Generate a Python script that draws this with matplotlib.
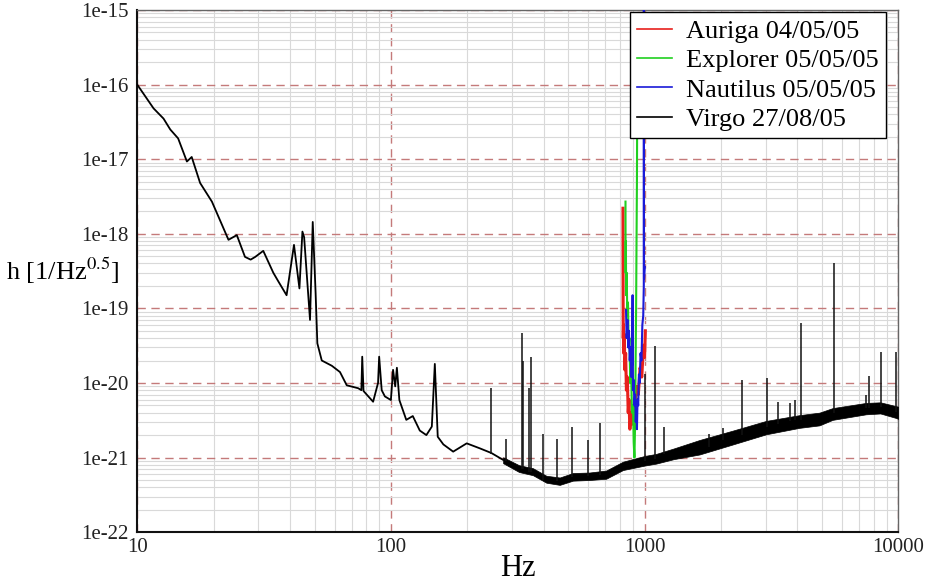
import numpy as np
import matplotlib
matplotlib.use('Agg')
import matplotlib.pyplot as plt
from matplotlib.ticker import FixedLocator, LogLocator, NullFormatter

plt.rcParams['font.family'] = ['Liberation Serif', 'DejaVu Serif']
plt.rcParams['mathtext.fontset'] = 'stix'

# Virgo 27/08/05, low-frequency part (Hz, strain)
virgo_f = [10.0, 11.6, 12.7, 13.5, 14.5, 15.7, 16.4, 17.7, 19.7, 20.9, 22.9, 24.7,
           26.6, 28.0, 29.2, 31.4, 34.4, 36.0, 38.8, 41.5, 43.6, 44.8, 45.5, 48.0,
           49.2, 50.5, 51.3, 53.4, 58.5, 63.0, 67.0, 74.3, 76.5, 77.1, 78.0, 85.1,
           89.0, 89.9, 92.0, 94.7, 100, 102, 104, 105.6, 108, 115, 122, 130, 138,
           145, 149, 153, 161, 176, 199, 224, 249, 277]
virgo_h = [1.0e-16, 4.8e-17, 3.5e-17, 2.5e-17, 1.9e-17, 9.3e-18, 1.07e-17, 4.8e-18,
           2.7e-18, 1.7e-18, 8.3e-19, 9.6e-19, 4.9e-19, 4.5e-19, 4.9e-19, 5.9e-19,
           3.0e-19, 2.3e-19, 1.5e-19, 7.1e-19, 1.85e-19, 1.07e-18, 9.0e-19, 7.0e-20,
           1.44e-18, 1.6e-19, 3.4e-20, 2.0e-20, 1.7e-20, 1.4e-20, 9.3e-21, 8.5e-21,
           8.0e-21, 2.25e-20, 7.8e-21, 5.6e-21, 1.0e-20, 2.25e-20, 8.0e-21, 6.6e-21,
           5.9e-21, 1.5e-20, 9.0e-21, 1.6e-20, 5.9e-21, 3.2e-21, 3.6e-21, 2.3e-21,
           2.0e-21, 2.6e-21, 1.8e-20, 1.9e-21, 1.5e-21, 1.2e-21, 1.55e-21, 1.33e-21,
           1.15e-21, 9.3e-22]

# Virgo high-frequency noise band (lower / upper edge)
band_f = [277, 320, 363, 410, 463, 522, 607, 706, 822, 1000, 1112, 1300, 1648,
          2230, 3015, 4074, 4890, 5510, 7464, 8500, 9780, 10000]
band_lo = [8.4e-22, 6.4e-22, 5.8e-22, 4.6e-22, 4.3e-22, 4.9e-22, 5.0e-22, 5.2e-22,
           6.8e-22, 7.8e-22, 8.3e-22, 9.5e-22, 1.1e-21, 1.5e-21, 2.05e-21, 2.5e-21,
           2.7e-21, 3.2e-21, 3.8e-21, 3.9e-21, 3.4e-21, 3.3e-21]
band_hi = [1.01e-21, 7.9e-22, 7.2e-22, 5.7e-22, 5.4e-22, 6.2e-22, 6.3e-22, 6.7e-22,
           8.8e-22, 1.05e-21, 1.12e-21, 1.32e-21, 1.72e-21, 2.3e-21, 3.1e-21, 3.7e-21,
           4.0e-21, 4.6e-21, 5.4e-21, 5.5e-21, 4.9e-21, 4.8e-21]

# Virgo lines (frequency, base, top)
spike_f = [249, 284, 330, 333, 351, 358, 398, 452, 519, 598, 665, 1000, 1102, 1191,
           1791, 2032, 2414, 3047, 3348, 3750, 3920, 4140, 5560, 7460, 7690, 8550, 9780]
spike_base = [1.1e-21, 9.0e-22, 7.0e-22, 7.0e-22, 6.5e-22, 6.5e-22, 5.0e-22, 4.8e-22,
              5.5e-22, 5.6e-22, 5.8e-22, 9.0e-22, 9.5e-22, 1.1e-21, 1.4e-21, 1.7e-21,
              2.0e-21, 2.6e-21, 2.8e-21, 3.1e-21, 3.2e-21, 3.2e-21, 4.0e-21, 4.6e-21,
              4.6e-21, 4.7e-21, 4.1e-21]
spike_top = [8.6e-21, 1.8e-21, 4.7e-20, 2.0e-20, 8.6e-21, 2.2e-20, 2.1e-21, 1.8e-21,
             2.6e-21, 1.7e-21, 2.9e-21, 1.3e-20, 3.1e-20, 2.6e-21, 2.1e-21, 2.5e-21,
             1.1e-20, 1.17e-20, 5.6e-21, 5.4e-21, 5.9e-21, 6.3e-20, 4.0e-19, 7.0e-21,
             1.24e-20, 2.6e-20, 2.6e-20]

# Auriga 04/05/05
auriga_f = [822, 823, 824, 826, 828, 832, 836, 842, 848, 855, 862, 868, 875, 885,
            895, 905, 915, 930, 945, 960, 975, 990, 1000, 1007]
auriga_h = [2.2e-18, 1.2e-19, 4.0e-20, 6.0e-20, 2.5e-20, 4.5e-20, 1.5e-20, 2.5e-20,
            8.0e-21, 1.2e-20, 4.0e-21, 6.0e-21, 2.4e-21, 4.0e-21, 2.8e-21, 5.0e-21,
            4.0e-21, 9.0e-21, 7.0e-21, 1.6e-20, 1.2e-20, 3.2e-20, 2.2e-20, 5.0e-20]

# Explorer 05/05/05
explorer_f = [841, 842, 844, 846, 850, 855, 860, 866, 872, 878, 885, 892, 900, 906,
              912, 918, 922, 926, 930, 933, 936]
explorer_h = [2.7e-18, 3.0e-19, 8.0e-19, 1.5e-19, 3.0e-19, 8.0e-20, 1.2e-19, 3.0e-20,
              4.0e-20, 1.0e-20, 1.4e-20, 4.0e-21, 5.0e-21, 1.6e-21, 1.0e-21, 3.0e-21,
              2.0e-20, 1.0e-19, 1.0e-18, 5.0e-18, 1.0e-16]

# Nautilus 05/05/05
nautilus_f = [845, 850, 856, 862, 868, 874, 880, 887, 893, 897, 900, 906, 912, 918,
              923, 928, 933, 938, 944, 950, 957, 964, 972, 980, 988, 993, 993.5,
              995, 1002]
nautilus_h = [9.5e-20, 4.0e-20, 7.0e-20, 3.0e-20, 5.0e-20, 2.0e-20, 3.0e-20, 1.2e-20,
              1.8e-20, 1.5e-19, 8.0e-21, 1.1e-20, 5.0e-21, 7.0e-21, 3.0e-21, 4.5e-21,
              2.4e-21, 6.0e-21, 5.0e-21, 1.3e-20, 1.0e-20, 2.5e-20, 2.0e-20, 6.0e-20,
              8.0e-20, 2.0e-19, 1.0e-15, 2.5e-19, 3.6e-19]

x_ticks = [10, 100, 1000, 10000]
x_labels = ['10', '100', '1000', '10000']
y_ticks = [1e-22, 1e-21, 1e-20, 1e-19, 1e-18, 1e-17, 1e-16, 1e-15]
y_labels = ['1e-22', '1e-21', '1e-20', '1e-19', '1e-18', '1e-17', '1e-16', '1e-15']

fig = plt.figure(figsize=(9.27, 5.88), dpi=100)
ax = fig.add_axes([0.148, 0.095, 0.821, 0.888])

ax.plot(auriga_f, auriga_h, color='#e8201c', lw=2.2, zorder=4, label='Auriga 04/05/05')
ax.plot(explorer_f, explorer_h, color='#20d020', lw=1.5, zorder=5, label='Explorer 05/05/05')
ax.plot(nautilus_f, nautilus_h, color='#1a1ad8', lw=1.5, zorder=6, label='Nautilus 05/05/05')
ax.plot(virgo_f, virgo_h, color='black', lw=1.3, zorder=3, label='Virgo 27/08/05')
ax.fill_between(band_f, band_lo, band_hi, color='black', lw=0.5, zorder=3)
ax.vlines(spike_f, spike_base, spike_top, color='#111111', lw=1.1, zorder=3)

ax.set_xscale('log')
ax.set_yscale('log')
ax.set_xlim(10, 10000)
ax.set_ylim(1e-22, 1e-15)

ax.xaxis.set_major_locator(FixedLocator(x_ticks))
ax.set_xticklabels(x_labels)
ax.yaxis.set_major_locator(FixedLocator(y_ticks))
ax.set_yticklabels(y_labels)
ax.xaxis.set_minor_locator(LogLocator(base=10, subs=np.arange(2, 10)))
ax.yaxis.set_minor_locator(LogLocator(base=10, subs=np.arange(2, 10), numticks=20))
ax.xaxis.set_minor_formatter(NullFormatter())
ax.yaxis.set_minor_formatter(NullFormatter())
ax.tick_params(which='both', length=0, labelsize=15, colors='#222222')
ax.tick_params(axis='y', pad=6)
ax.tick_params(axis='x', pad=4)

ax.grid(which='minor', color='#d9d9d9', lw=0.8, ls='-')
ax.grid(which='major', color='#c47a7a', lw=1.0, ls=(0, (6, 4)))
ax.set_axisbelow(True)

for s in ['left', 'bottom']:
    ax.spines[s].set_color('#111111')
    ax.spines[s].set_linewidth(1.5)
for s in ['top', 'right']:
    ax.spines[s].set_color('#666666')
    ax.spines[s].set_linewidth(1.0)

ax.set_xlabel('Hz', fontsize=22, labelpad=-2)
ax.set_ylabel('h [1/Hz$^{0.5}$]', fontsize=19, rotation=0, ha='left', va='center')
ax.yaxis.set_label_coords(-0.172, 0.50)

leg = ax.legend(loc='upper right', bbox_to_anchor=(0.987, 1.0), fontsize=19,
                frameon=True, fancybox=False, framealpha=1, edgecolor='black',
                handlelength=1.3, handletextpad=0.55, labelspacing=0.22,
                borderpad=0.28, borderaxespad=0.08)
leg.get_frame().set_linewidth(1.0)
leg.set_zorder(10)
for h in leg.legend_handles:
    h.set_linewidth(1.2)

fig.savefig('out.png', dpi=100)
